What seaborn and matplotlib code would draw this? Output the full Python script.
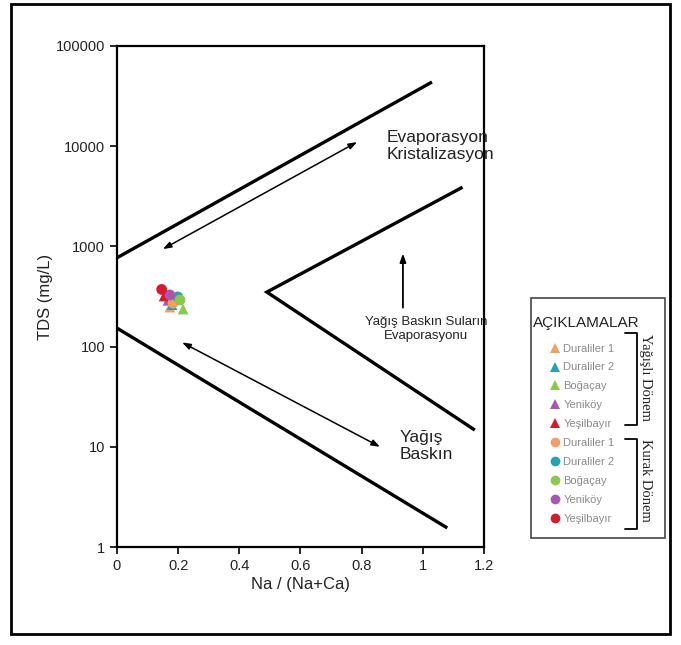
import pandas as pd
import seaborn as sns
import matplotlib.pyplot as plt
from matplotlib.patches import Rectangle
from matplotlib.lines import Line2D

# Stations and colours
stations = ["Duraliler 1", "Duraliler 2", "Boğaçay", "Yeniköy", "Yeşilbayır"]
colors = ["#F0A064", "#23A5AF", "#8CC84B", "#A855B4", "#D7192D"]

# Yağışlı dönem (triangles)
wet_ratio = [0.173, 0.180, 0.216, 0.167, 0.154]
wet_tds = [248, 262, 237, 290, 320]
# Kurak dönem (circles)
dry_ratio = [0.183, 0.199, 0.206, 0.173, 0.146]
dry_tds = [272, 313, 292, 328, 372]

# Gibbs boundary lines
upper_x = [0.0, 1.03]
upper_y = [770, 43700]
lower_x = [0.0, 1.08]
lower_y = [153, 1.55]
v_x = [1.13, 0.49, 1.17]
v_y = [3900, 350, 14.7]

x_ticks = [0, 0.2, 0.4, 0.6, 0.8, 1.0, 1.2]
x_ticklabels = ["0", "0.2", "0.4", "0.6", "0.8", "1", "1.2"]
y_ticks = [1, 10, 100, 1000, 10000, 100000]
y_ticklabels = ["1", "10", "100", "1000", "10000", "100000"]

rows = []
for s, c, x, y in zip(stations, colors, wet_ratio, wet_tds):
    rows.append({"key": "w_" + s, "name": s, "ratio": x, "tds": y, "marker": "^", "color": c})
for s, c, x, y in zip(stations, colors, dry_ratio, dry_tds):
    rows.append({"key": "d_" + s, "name": s, "ratio": x, "tds": y, "marker": "o", "color": c})
df = pd.DataFrame(rows)

sns.set_style("white")
plt.rcParams["font.family"] = ["Liberation Sans", "DejaVu Sans"]

fig = plt.figure(figsize=(6.81, 6.45), dpi=100)
ax = fig.add_axes([0.1718, 0.1519, 0.5389, 0.7768])

# boundary lines
ax.plot(upper_x, upper_y, color="black", lw=2.4, solid_capstyle="butt")
ax.plot(lower_x, lower_y, color="black", lw=2.4, solid_capstyle="butt")
ax.plot(v_x, v_y, color="black", lw=2.4, solid_capstyle="butt", solid_joinstyle="miter")

sns.scatterplot(data=df, x="ratio", y="tds", hue="key", style="key",
                palette=dict(zip(df["key"], df["color"])),
                markers=dict(zip(df["key"], df["marker"])),
                hue_order=list(df["key"]), style_order=list(df["key"]),
                s=60, edgecolor="none", linewidth=0, ax=ax, zorder=5)

# arrows
arr = dict(arrowstyle="<|-|>,head_length=0.5,head_width=0.18", color="black", lw=1.1,
           shrinkA=0, shrinkB=0)
ax.annotate("", xy=(0.15, 940), xytext=(0.785, 11000), arrowprops=arr)
ax.annotate("", xy=(0.213, 110), xytext=(0.86, 10), arrowprops=arr)
ax.annotate("", xy=(0.935, 850), xytext=(0.935, 245),
            arrowprops=dict(arrowstyle="-|>,head_length=0.5,head_width=0.18",
                            color="black", lw=1.3, shrinkA=0, shrinkB=0))

ax.text(0.883, 10000, "Evaporasyon\nKristalizasyon", ha="left", va="center",
        fontsize=12.5, color="#222222", linespacing=1.15)
ax.text(1.01, 150, "Yağış Baskın Suların\nEvaporasyonu", ha="center", va="center",
        fontsize=9.5, color="#222222", linespacing=1.3, clip_on=False)
ax.text(0.925, 10.2, "Yağış\nBaskın", ha="left", va="center",
        fontsize=12.5, color="#222222", linespacing=1.15)

ax.set_yscale("log")
ax.set_xlim(0, 1.2)
ax.set_ylim(1, 100000)
ax.set_xticks(x_ticks)
ax.set_xticklabels(x_ticklabels)
ax.set_yticks(y_ticks)
ax.set_yticklabels(y_ticklabels)
ax.minorticks_off()
ax.tick_params(direction="out", length=5, width=1.2, color="black",
               labelsize=10.5, labelcolor="#222222", left=True, bottom=True)
for sp in ax.spines.values():
    sp.set_color("black")
    sp.set_linewidth(1.6)
ax.set_xlabel("Na / (Na+Ca)", fontsize=12, color="#222222", labelpad=3)
ax.set_ylabel("TDS (mg/L)", fontsize=12, color="#222222", labelpad=2)

# legend
handles, _ = ax.get_legend_handles_labels()
leg = ax.legend(handles, list(df["name"]), loc="upper left",
                bbox_to_anchor=(0.8068, 0.4674), bbox_transform=fig.transFigure,
                frameon=False, fontsize=8, labelspacing=0.8,
                handletextpad=0.25, handlelength=1.0, borderaxespad=0,
                borderpad=0)
for t in leg.get_texts():
    t.set_color("#8a8a8a")
for h in leg.legend_handles:
    h.set_markersize(7)
fig.text(0.7827, 0.5, "AÇIKLAMALAR", ha="left", va="center", fontsize=11,
         color="#222222")

# legend box, brackets and period labels
fig.patches.append(Rectangle((0.7797, 0.1659), 0.1968, 0.3721, transform=fig.transFigure,
                             fill=False, ec="#444444", lw=1.2))
for top, bot in [(0.4837, 0.3411), (0.32, 0.1798)]:
    fig.lines.append(Line2D([0.9185, 0.9361, 0.9361, 0.9185], [top, top, bot, bot],
                            transform=fig.transFigure, color="black", lw=1.3))
fig.text(0.9486, 0.4155, "Yağışlı Dönem", rotation=-90, ha="center", va="center",
         fontsize=10.5, family=["Liberation Serif", "DejaVu Serif"], color="#222222")
fig.text(0.9486, 0.2558, "Kurak Dönem", rotation=-90, ha="center", va="center",
         fontsize=10.5, family=["Liberation Serif", "DejaVu Serif"], color="#222222")

# outer frame
fig.patches.append(Rectangle((0.016, 0.017), 0.968, 0.977, transform=fig.transFigure,
                             fill=False, ec="black", lw=2))

plt.savefig("out.png", dpi=100)
